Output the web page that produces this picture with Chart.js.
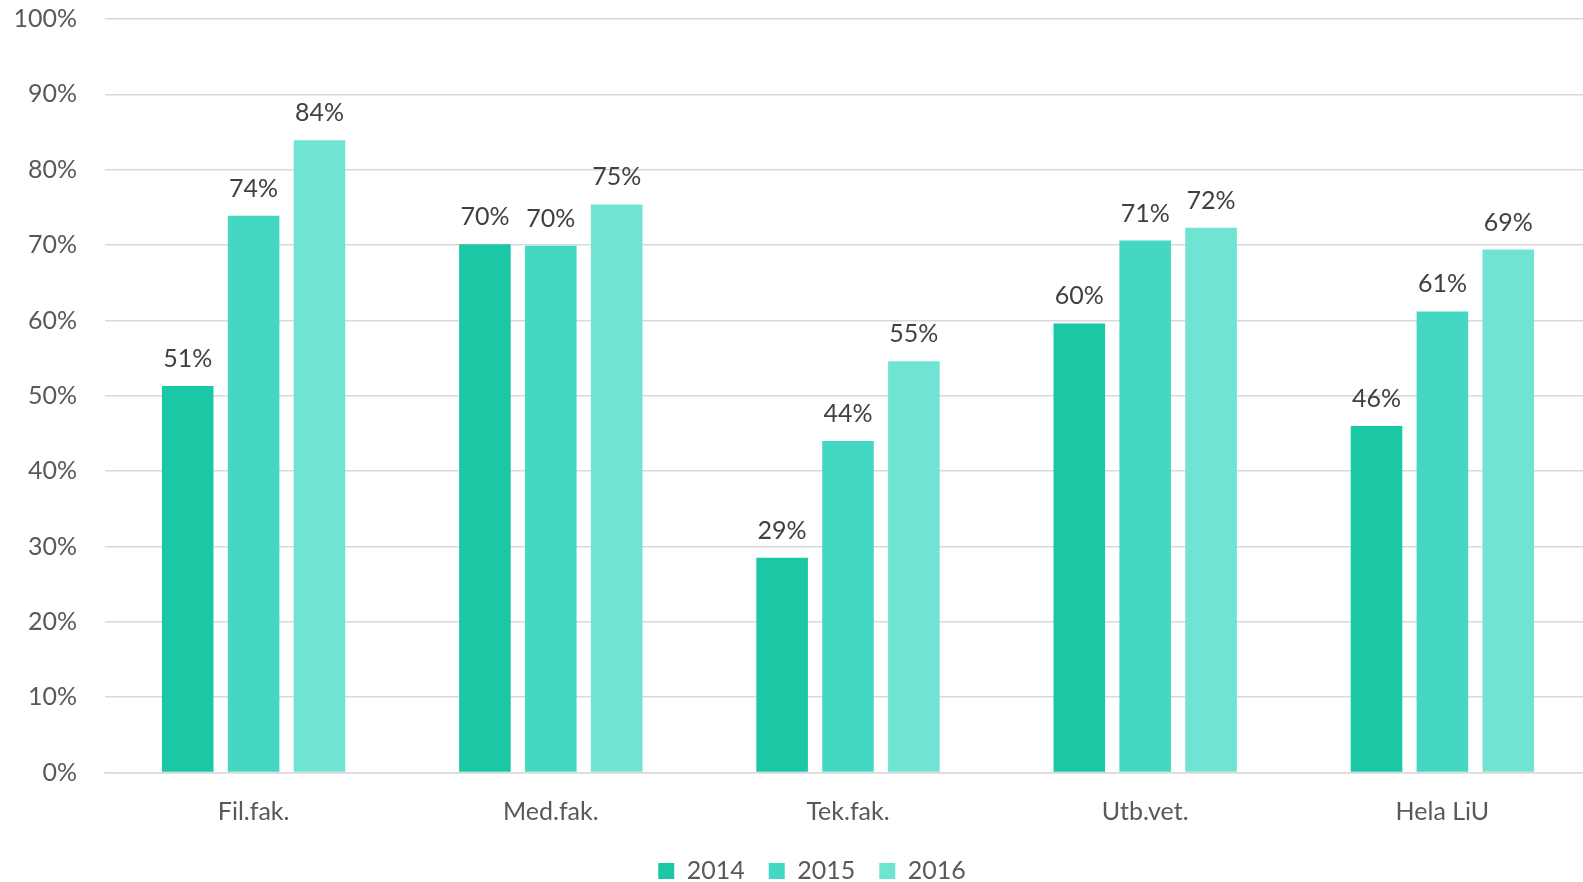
<!DOCTYPE html>
<html><head><meta charset="utf-8">
<script src="https://cdn.jsdelivr.net/npm/chart.js@4.4.0/dist/chart.umd.min.js"></script>
<style>html,body{margin:0;padding:0;overflow:hidden;background:#fff;width:1583px;height:882px}canvas{display:block}</style>
</head><body><canvas id="c" width="1624" height="882"></canvas>
<script>
const categories = ['Fil.fak.', 'Med.fak.', 'Tek.fak.', 'Utb.vet.', 'Hela LiU'];
const seriesNames = ['2014', '2015', '2016'];
const values2014 = [51.3, 70.1, 28.5, 59.6, 46.0];
const values2015 = [73.9, 69.9, 44.0, 70.6, 61.2];
const values2016 = [83.9, 75.4, 54.6, 72.3, 69.4];
const yMin = 0, yMax = 100, yStep = 10;
const colors = ['#1AC8A5', '#44D8C3', '#70E4D3'];

Chart.defaults.font.family = 'Lato';
Chart.defaults.font.size = 25;
Chart.defaults.color = '#595959';

const dataLabels = {
  id: 'dl',
  afterDatasetsDraw(chart) {
    const ctx = chart.ctx;
    ctx.save();
    ctx.font = '25px Lato';
    ctx.fillStyle = '#404040';
    ctx.textAlign = 'center';
    ctx.textBaseline = 'alphabetic';
    chart.data.datasets.forEach((ds, i) => {
      chart.getDatasetMeta(i).data.forEach((bar, j) => {
        ctx.fillText(Math.round(ds.data[j]) + '%', bar.x, bar.y - 19);
      });
    });
    ctx.restore();
  }
};

const series = [values2014, values2015, values2016];
new Chart(document.getElementById('c'), {
  type: 'bar',
  data: {
    labels: categories,
    datasets: series.map((d, i) => ({
      label: seriesNames[i],
      data: d,
      backgroundColor: colors[i],
      categoryPercentage: 0.665,
      barPercentage: 0.783
    }))
  },
  options: {
    responsive: false,
    animation: false,
    layout: { padding: { top: 19, left: 0, right: 0, bottom: -11.5 } },
    plugins: {
      tooltip: { enabled: false },
      legend: {
        position: 'bottom',
        labels: { boxWidth: 16, boxHeight: 16, padding: 24, color: '#595959', font: { size: 25 } }
      }
    },
    scales: {
      x: {
        afterFit(s) { s.height -= 17.1; },
        grid: { display: false, drawTicks: false },
        border: { display: true, color: '#D9D9D9', width: 1.5 },
        ticks: { padding: 24.5, color: '#595959', font: { size: 25 } }
      },
      y: {
        min: yMin, max: yMax,
        afterFit(s) { s.width = 105; s.paddingTop = 15; s.paddingBottom = 15; },
        grid: { color: '#D9D9D9', lineWidth: 1.5, drawTicks: false },
        border: { display: false },
        ticks: { stepSize: yStep, padding: 28, color: '#595959', font: { size: 25 }, callback: v => v + '%' }
      },
      y2: {
        position: 'right',
        display: true,
        afterFit(s) { s.width = 33; },
        grid: { display: false, drawTicks: false },
        border: { display: false },
        ticks: { display: false }
      }
    }
  },
  plugins: [dataLabels]
});
</script>
</body></html>
